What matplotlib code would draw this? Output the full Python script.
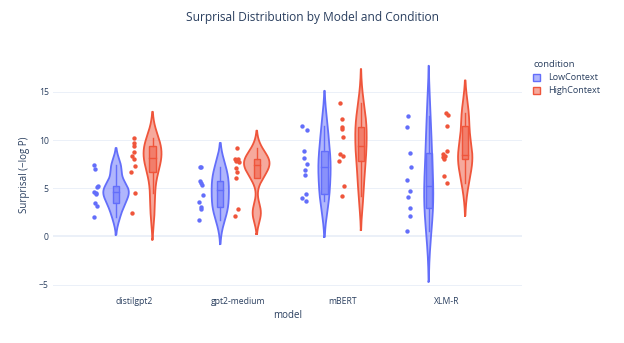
import numpy as np
import matplotlib
matplotlib.use("Agg")
import matplotlib.pyplot as plt
from matplotlib.patches import Patch, Rectangle

plt.rcParams['font.family'] = ['Open Sans', 'DejaVu Sans']

# ---- data ----
models = ["distilgpt2", "gpt2-medium", "mBERT", "XLM-R"]
conditions = ["LowContext", "HighContext"]

low_distilgpt2 = [7.39, 6.97, 5.28, 5.14, 4.62, 4.52, 4.45, 3.48, 3.17, 1.97]
high_distilgpt2 = [10.22, 9.64, 9.36, 8.77, 8.32, 7.98, 7.28, 6.63, 4.52, 2.38]
low_gpt2m = [7.21, 7.15, 5.76, 5.49, 5.32, 4.28, 3.52, 3.07, 2.80, 1.69]
high_gpt2m = [9.12, 8.01, 7.98, 7.80, 7.67, 7.05, 6.69, 6.11, 2.80, 2.10]
low_mbert = [11.43, 11.02, 8.84, 8.15, 7.46, 6.94, 6.38, 4.35, 4.00, 3.63]
high_mbert = [13.84, 12.23, 11.36, 11.19, 10.32, 8.50, 8.32, 7.80, 5.24, 4.18]
low_xlmr = [12.47, 11.30, 8.66, 7.18, 5.83, 4.73, 4.10, 2.90, 2.13, 0.55]
high_xlmr = [12.85, 12.64, 11.46, 8.87, 8.53, 8.39, 8.20, 8.04, 6.25, 5.49]

data = {
    "LowContext": [low_distilgpt2, low_gpt2m, low_mbert, low_xlmr],
    "HighContext": [high_distilgpt2, high_gpt2m, high_mbert, high_xlmr],
}
colors = {"LowContext": "#636EFA", "HighContext": "#EF553B"}

TXT = "#2a3f5f"
GRID = "#EBF0F8"

def hazen_q(v, p):
    s = np.sort(v)
    n = len(s)
    idx = p * n - 0.5
    lo = int(np.floor(idx)); hi = min(lo + 1, n - 1)
    f = idx - lo
    return s[lo] * (1 - f) + s[hi] * f

def kde_curve(v):
    v = np.asarray(v, float)
    n = len(v)
    q1, q3 = hazen_q(v, 0.25), hazen_q(v, 0.75)
    sd = v.std(ddof=1)
    bw = 1.059 * min(sd, (q3 - q1) / 1.349) * n ** (-0.2)
    y = np.linspace(v.min() - 2 * bw, v.max() + 2 * bw, 300)
    d = np.exp(-0.5 * ((y[:, None] - v[None, :]) / bw) ** 2).sum(1) / (n * bw * np.sqrt(2 * np.pi))
    return y, d

fig = plt.figure(figsize=(6.24, 3.43), dpi=100)
L, R, T, B = 53, 522, 60, 290
ax = fig.add_axes([L / 624, 1 - B / 343, (R - L) / 624, (B - T) / 343])
ax.set_xlim(-0.78, 3.72)
ax.set_ylim(-5.56, 18.3)
for s in ax.spines.values():
    s.set_visible(False)

yt = [-5, 0, 5, 10, 15]
for t in yt:
    ax.axhline(t, color=GRID, lw=1.44 if t == 0 else 0.72, zorder=0)
ax.set_yticks(yt)
ax.set_yticklabels(["\u22125", "0", "5", "10", "15"])
ax.set_xticks(range(len(models)))
ax.set_xticklabels(models)
ax.tick_params(axis='both', length=0, colors=TXT, labelsize=6.2)
ax.tick_params(axis='y', pad=3)
ax.tick_params(axis='x', pad=5)

hw = 0.1225  # max half width
offsets = {"LowContext": -0.175, "HighContext": 0.175}
rng = np.random.default_rng(3)

for cond in conditions:
    curves = [kde_curve(v) for v in data[cond]]
    dmax = max(c[1].max() for c in curves)
    col = colors[cond]
    for i, v in enumerate(data[cond]):
        x0 = i + offsets[cond]
        y, d = curves[i]
        w = d / dmax * hw
        ax.fill_betweenx(y, x0 - w, x0 + w, facecolor=col, alpha=0.5, lw=0, zorder=2)
        ax.plot(np.r_[x0 - w, (x0 + w)[::-1], x0 - w[0]], np.r_[y, y[::-1], y[0]],
                color=col, lw=1.3, zorder=3)
        v = np.asarray(v)
        q1, med, q3 = hazen_q(v, 0.25), hazen_q(v, 0.5), hazen_q(v, 0.75)
        iqr = q3 - q1
        lo_w = v[v >= q1 - 1.5 * iqr].min()
        hi_w = v[v <= q3 + 1.5 * iqr].max()
        bw_ = 0.25 * hw
        ax.plot([x0, x0], [lo_w, q1], color=col, lw=1.0, zorder=4)
        ax.plot([x0, x0], [q3, hi_w], color=col, lw=1.0, zorder=4)
        ax.add_patch(Rectangle((x0 - bw_, q1), 2 * bw_, iqr, facecolor=col, alpha=0.5,
                               lw=0, zorder=4))
        ax.add_patch(Rectangle((x0 - bw_, q1), 2 * bw_, iqr, facecolor='none',
                               edgecolor=col, lw=1.0, zorder=5))
        ax.plot([x0 - bw_, x0 + bw_], [med, med], color=col, lw=1.0, zorder=5)
        jit = rng.uniform(-1, 1, len(v)) * 0.2 * hw
        ax.scatter(np.full(len(v), x0 - 1.55 * hw) + jit, v, s=10, color=col,
                   linewidths=0, zorder=6)

ax.set_xlabel("model", color=TXT, fontsize=7, labelpad=3)
ax.set_ylabel("Surprisal (\u2212log P)", color=TXT, fontsize=7, labelpad=6)
fig.text(0.5, 1 - 18 / 343, "Surprisal Distribution by Model and Condition",
         ha='center', va='center', color=TXT, fontsize=8.6)

handles = [Patch(facecolor=matplotlib.colors.to_rgba(colors[c], 0.5), edgecolor=colors[c], lw=1)
           for c in conditions]
leg = fig.legend(handles, conditions, title="condition", loc='upper left',
                 bbox_to_anchor=(527 / 624, 1 - 54 / 343), frameon=False,
                 fontsize=6.5, title_fontsize=6.8, handlelength=0.75, handleheight=0.75,
                 handletextpad=0.9, labelspacing=0.45, alignment='left', borderpad=0.2)
for t in leg.get_texts():
    t.set_color(TXT)
leg.get_title().set_color(TXT)

fig.savefig("out.png", dpi=100, facecolor='white')
